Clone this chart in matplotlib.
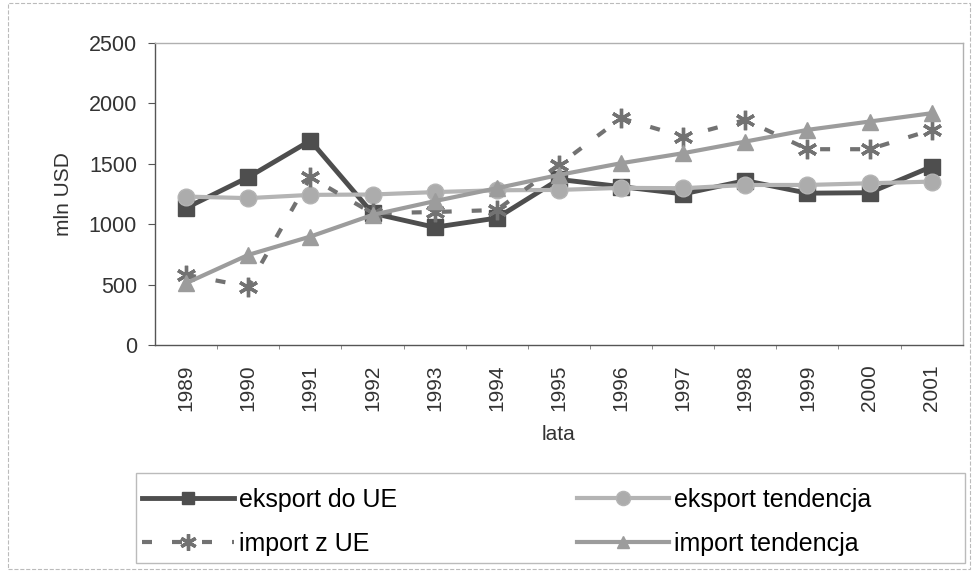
import matplotlib.pyplot as plt

plt.rcParams['font.family'] = ['Liberation Sans', 'DejaVu Sans']

lata = [1989, 1990, 1991, 1992, 1993, 1994, 1995, 1996, 1997, 1998, 1999, 2000, 2001]
eksport_ue = [1134, 1388, 1691, 1090, 974, 1050, 1370, 1310, 1250, 1360, 1256, 1260, 1476]
eksport_tend = [1228, 1215, 1242, 1245, 1265, 1280, 1283, 1300, 1297, 1324, 1324, 1338, 1352]
import_ue = [580, 483, 1388, 1090, 1100, 1117, 1490, 1876, 1724, 1862, 1620, 1620, 1780]
import_tend = [511, 745, 897, 1076, 1190, 1297, 1407, 1504, 1587, 1683, 1780, 1849, 1918]


def rysuj():
    fig = plt.figure(figsize=(9.72, 5.72), dpi=100)
    ax = fig.add_axes([0.1595, 0.397, 0.831, 0.528])

    l1, = ax.plot(lata, eksport_ue, color='#4e4e4e', linewidth=3.5, marker='s', markersize=11,
                  label='eksport do UE')
    l2, = ax.plot(lata, eksport_tend, color='#b4b4b4', linewidth=3, marker='o', markersize=12,
                  markerfacecolor='#acacac', markeredgecolor='#b4b4b4', label='eksport tendencja')
    l3, = ax.plot(lata, import_ue, color='#727272', linewidth=3, linestyle=(0, (2.4, 4.8)),
                  marker=(6, 2, 0), markersize=14, markeredgewidth=2.4, label='import z UE')
    l4, = ax.plot(lata, import_tend, color='#9c9c9c', linewidth=3, marker='^', markersize=11,
                  label='import tendencja')

    ax.set_xlim(1988.5, 2001.5)
    ax.set_ylim(0, 2500)
    ax.set_xticks(lata)
    ax.set_xticklabels([str(r) for r in lata], rotation=90)
    ax.set_xticks([r + 0.5 for r in lata[:-1]], minor=True)
    ax.set_yticks([0, 500, 1000, 1500, 2000, 2500])
    ax.tick_params(axis='y', labelsize=15.5, labelcolor='#333333', length=5, pad=8,
                   color='#555555')
    ax.tick_params(axis='x', which='major', length=0, pad=14, labelsize=15,
                   labelcolor='#333333')
    ax.tick_params(axis='x', which='minor', length=3, color='#777777')
    ax.set_xlabel('lata', fontsize=15, color='#333333', labelpad=10)
    ax.set_ylabel('mln USD', fontsize=15, color='#333333', labelpad=11)
    for nazwa, sp in ax.spines.items():
        sp.set_color('#b0b0b0')
        sp.set_linewidth(1)
    ax.spines['left'].set_color('#555555')
    ax.spines['bottom'].set_color('#555555')

    # dwie kolumny legendy: eksport w gornym wierszu, import w dolnym
    opcje = dict(loc='upper left', fontsize=18, frameon=False, handlelength=3.7,
                 handletextpad=0.2, borderaxespad=0, borderpad=0, labelspacing=0.8,
                 markerscale=0.85)
    fig.legend([l1, l3], ['eksport do UE', 'import z UE'],
               bbox_to_anchor=(0.146, 0.147), **opcje)
    fig.legend([l2, l4], ['eksport tendencja', 'import tendencja'],
               bbox_to_anchor=(0.5936, 0.147), **opcje)

    legenda_ramka = plt.Rectangle((0.140, 0.0157), 0.853, 0.157, transform=fig.transFigure,
                                  fill=False, edgecolor='#bbbbbb', linewidth=1)
    fig.patches.append(legenda_ramka)

    ramka = plt.Rectangle((0.008, 0.005), 0.99, 0.99, transform=fig.transFigure,
                          fill=False, edgecolor='#bbbbbb', linestyle='--', linewidth=0.8)
    fig.patches.append(ramka)

    fig.savefig('out.png', dpi=100)


if __name__ == "__main__":
    rysuj()
